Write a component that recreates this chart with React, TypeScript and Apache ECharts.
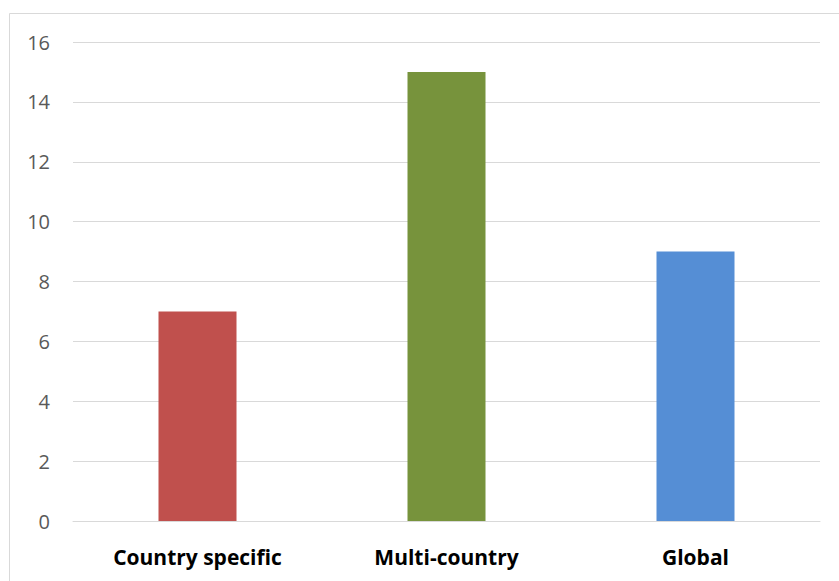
import React, { useEffect, useRef } from "react";
import * as echarts from "echarts";

const categories = ["Country specific", "Multi-country", "Global"];
const values = [7, 15, 9];
const barColors = ["#C0504D", "#77933C", "#558ED5"];
const yTicks = [0, 2, 4, 6, 8, 10, 12, 14, 16];

export default function App() {
  const ref = useRef<HTMLDivElement>(null);
  useEffect(() => {
    document.body.style.margin = "0";
    const chart = echarts.init(ref.current!, undefined, { renderer: "svg" });
    chart.setOption({
      animation: false,
      backgroundColor: "#ffffff",
      graphic: [
        {
          type: "rect",
          shape: { x: 9.5, y: 13.5, width: 900, height: 700 },
          style: { fill: "none", stroke: "#D9D9D9", lineWidth: 1 },
          silent: true,
        },
      ],
      grid: { left: 73, right: 19, top: 42, bottom: 60, containLabel: false },
      xAxis: {
        type: "category",
        data: categories,
        axisLine: { show: true, lineStyle: { color: "#D9D9D9", width: 1 } },
        axisTick: { show: false },
        axisLabel: {
          color: "#000000",
          fontFamily: "Open Sans",
          fontWeight: "bold",
          fontSize: 21,
          margin: 25,
        },
      },
      yAxis: {
        type: "value",
        min: yTicks[0],
        max: yTicks[yTicks.length - 1],
        interval: 2,
        axisLine: { show: false },
        axisTick: { show: false },
        splitLine: { lineStyle: { color: "#D9D9D9", width: 1 } },
        axisLabel: {
          color: "#595959",
          fontFamily: "Open Sans",
          fontSize: 20,
          margin: 23,
        },
      },
      series: [
        {
          type: "bar",
          barWidth: 78,
          data: values.map((v, i) => ({ value: v, itemStyle: { color: barColors[i] } })),
        },
      ],
    });
    return () => chart.dispose();
  }, []);
  return <div ref={ref} style={{ width: 839, height: 581 }} />;
}
